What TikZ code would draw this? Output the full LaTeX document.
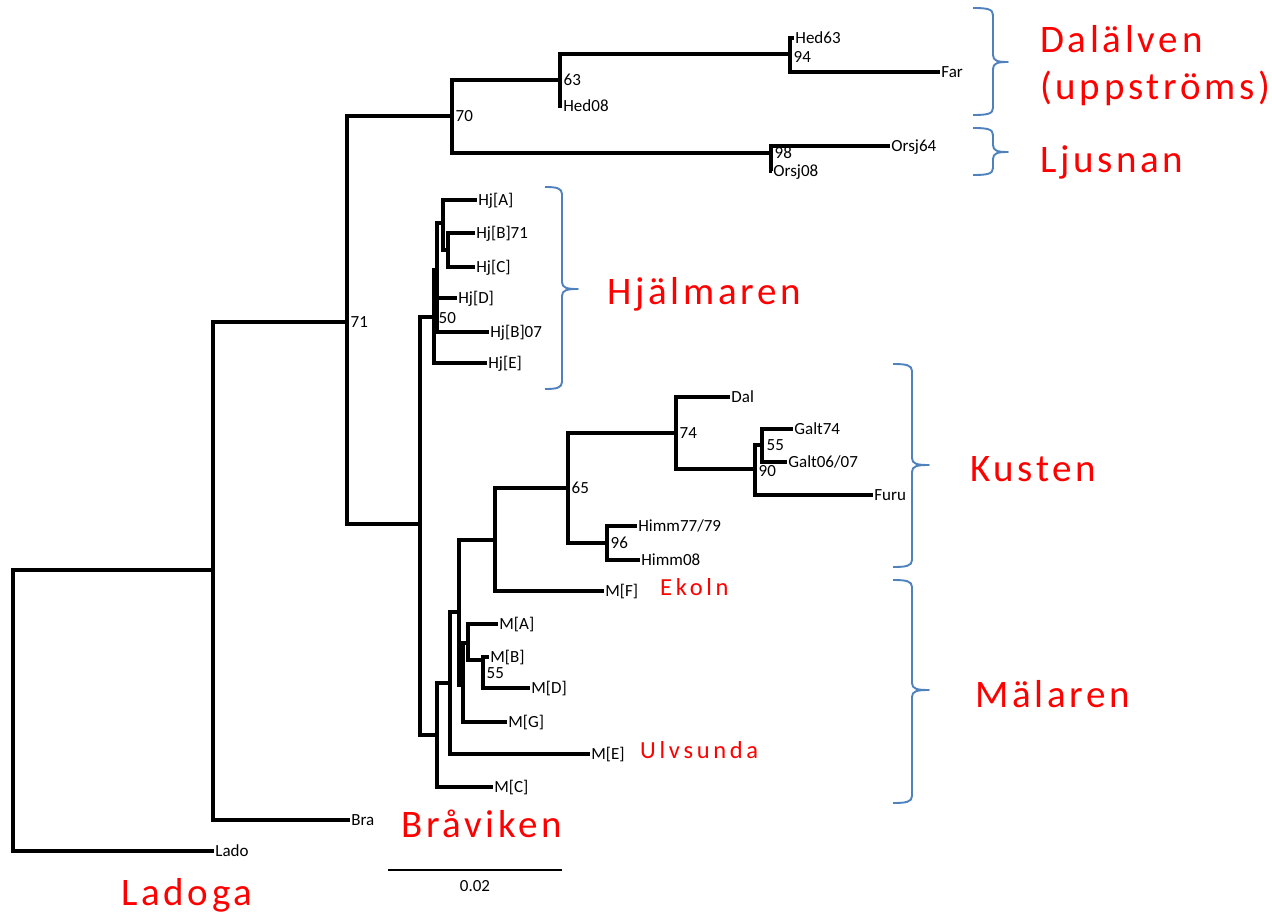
\documentclass[tikz,border=0pt]{standalone}
\usepackage{fontspec}
\setmainfont{Carlito}
\newfontfamily\bigredfont[LetterSpace=9.5]{Carlito}
\newfontfamily\smallredfont[LetterSpace=15]{Carlito}
\definecolor{bracecol}{RGB}{79,129,189}
\definecolor{labred}{RGB}{255,0,0}
\newcommand\curlyr[6]{%
  \draw[bracestyle] (#1,#4) .. controls (#2-6,#4) and (#2,#4+1) .. (#2,#4+7)
    -- (#2,#5-7) .. controls (#2,#5-1) and (#2+5,#5) .. (#3,#5)
    .. controls (#2+5,#5) and (#2,#5+1) .. (#2,#5+7)
    -- (#2,#6-7) .. controls (#2,#6-1) and (#2-6,#6) .. (#1,#6);}
\begin{document}
\begin{tikzpicture}[x=1pt,y=-1pt,
  br/.style={line width=3.7pt},
  thinbr/.style={line width=3.1pt},
  leaf/.style={anchor=west, inner sep=1.2pt, font=\fontsize{17}{19}\selectfont, text height=10.8pt, text depth=0pt},
  boot/.style={anchor=west, inner sep=0.5pt, font=\fontsize{17}{19}\selectfont, text height=10.8pt, text depth=0pt},
  bigred/.style={anchor=base west, inner sep=0pt, text=labred, font=\bigredfont\fontsize{39}{44}\selectfont},
  smallred/.style={anchor=base west, inner sep=0pt, text=labred, font=\smallredfont\fontsize{24.5}{28}\selectfont},
  bracestyle/.style={draw=bracecol, line width=1.9pt, line join=round}]
\useasboundingbox (0,0) rectangle (1272,915);

% internal nodes
\coordinate (R0) at (13,711);
\coordinate (N213) at (213,570);
\coordinate (N347) at (347,322);
\coordinate (N452) at (452,116);
\coordinate (N560) at (560,80);
\coordinate (N790) at (790,54);
\coordinate (N771) at (771,153);
\coordinate (N420) at (420,524);
\coordinate (NHj) at (434,317);
\coordinate (NHj2) at (437,270);
\coordinate (NHjA) at (443,223);
\coordinate (NHjB) at (448,250);
\coordinate (N437) at (437,735);
\coordinate (N450) at (450,683);
\coordinate (N459) at (459,612);
\coordinate (N495) at (495,540);
\coordinate (N568) at (568,488);
\coordinate (N676) at (676,433);
\coordinate (N755) at (755,469);
\coordinate (N762) at (762,445);
\coordinate (N607) at (607,543);
\coordinate (N463) at (463,685);
\coordinate (N468) at (468,643);
\coordinate (N483) at (483,660);

% leaves
\node[leaf] (Hed63) at (794,38) {Hed63};
\node[leaf] (Far) at (940,72) {Far};
\node[leaf] (Hed08) at (562,106) {Hed08};
\node[leaf] (Orsj64) at (890,146) {Orsj64};
\node[leaf] (Orsj08) at (772,171) {Orsj08};
\node[leaf] (HjA) at (477,200) {Hj[A]};
\node[leaf] (HjB71) at (475,233) {Hj[B]71};
\node[leaf] (HjC) at (475,267) {Hj[C]};
\node[leaf] (HjD) at (457,298) {Hj[D]};
\node[leaf] (HjB07) at (489,332) {Hj[B]07};
\node[leaf] (HjE) at (487,363) {Hj[E]};
\node[leaf] (Dal) at (730,397) {Dal};
\node[leaf] (Galt74) at (793,429) {Galt74};
\node[leaf] (Galt0607) at (787,462) {Galt06/07};
\node[leaf] (Furu) at (873,495) {Furu};
\node[leaf] (Himm7779) at (637,526) {Himm77/79};
\node[leaf] (Himm08) at (640,560) {Himm08};
\node[leaf] (MF) at (604,591) {M[F]};
\node[leaf] (MA) at (498,624) {M[A]};
\node[leaf] (MB) at (489,657) {M[B]};
\node[leaf] (MD) at (530,688) {M[D]};
\node[leaf] (MG) at (507,722) {M[G]};
\node[leaf] (ME) at (590,754) {M[E]};
\node[leaf] (MC) at (493,787) {M[C]};
\node[leaf] (Bra) at (350,820) {Bra};
\node[leaf] (Lado) at (214,851) {Lado};

% branches
\draw[br] (R0) |- (N213);
\draw[br] (R0) |- (Lado.west);
\draw[br] (N213) |- (N347);
\draw[br] (N213) |- (Bra.west);
\draw[br] (N347) |- (N452);
\draw[br] (N347) |- (N420);
\draw[br] (N452) |- (N560);
\draw[br] (N452) |- (N771);
\draw[br] (N560) |- (N790);
\draw[br] (N560) |- (Hed08.west);
\draw[br] (N790) |- (Hed63.west);
\draw[br] (N790) |- (Far.west);
\draw[br] (N771) |- (Orsj64.west);
\draw[br] (N771) |- (Orsj08.west);
\draw[br] (N420) |- (NHj);
\draw[br] (N420) |- (N437);
\draw[br] (NHj) |- (NHj2);
\draw[br] (NHj) |- (HjE.west);
\draw[thinbr] (NHj2) |- (NHjA);
\draw[br] (NHj2) |- (HjD.west);
\draw[br] (NHj2) |- (HjB07.west);
\draw[br] (NHjA) |- (HjA.west);
\draw[thinbr] (NHjA) |- (NHjB);
\draw[br] (NHjB) |- (HjB71.west);
\draw[br] (NHjB) |- (HjC.west);
\draw[thinbr] (N437) |- (N450);
\draw[thinbr] (N437) |- (MC.west);
\draw[thinbr] (N450) |- (N459);
\draw[thinbr] (N450) |- (ME.west);
\draw[br] (N459) |- (N495);
\draw[br] (N459) |- (N463);
\draw[br] (N495) |- (N568);
\draw[br] (N495) |- (MF.west);
\draw[br] (N568) |- (N676);
\draw[br] (N568) |- (N607);
\draw[br] (N676) |- (Dal.west);
\draw[br] (N676) |- (N755);
\draw[br] (N755) |- (N762);
\draw[br] (N755) |- (Furu.west);
\draw[br] (N762) |- (Galt74.west);
\draw[br] (N762) |- (Galt0607.west);
\draw[br] (N607) |- (Himm7779.west);
\draw[br] (N607) |- (Himm08.west);
\draw[br] (N463) |- (N468);
\draw[br] (N463) |- (MG.west);
\draw[br] (N468) |- (MA.west);
\draw[br] (N468) |- (N483);
\draw[br] (N483) |- (MB.west);
\draw[br] (N483) |- (MD.west);

% support values
\node[boot] (b71) at (350,322) {71};
\node[boot] (b70) at (455,116) {70};
\node[boot] (b63) at (563,80) {63};
\node[boot] (b94) at (793,57) {94};
\node[boot] (b98) at (774,153) {98};
\node[boot] (b50) at (438,318) {50};
\node[boot] (b65) at (571,488) {65};
\node[boot] (b74) at (679,433) {74};
\node[boot] (b90) at (758,471) {90};
\node[boot] (b55a) at (766,445) {55};
\node[boot] (b96) at (610,543) {96};
\node[boot] (b55b) at (486,673) {55};

% scale bar
\coordinate (SB1) at (388,870);
\coordinate (SB2) at (562,870);
\draw[line width=2.4pt] (SB1) -- (SB2);
\node[font=\fontsize{17}{19}\selectfont, inner sep=0pt] (SBlab) at (475,886) {0.02};

% braces
\curlyr{973}{993}{1008}{8}{62}{115}
\curlyr{973}{993}{1008}{128}{152}{175}
\curlyr{545}{562}{578}{187}{289}{389}
\curlyr{893}{912}{929}{364}{465}{567}
\curlyr{893}{912}{929}{580}{690}{803}

% group labels
\node[bigred] (lDal) at (1040,53) {Dalälven};
\node[bigred] (lUpp) at (1040,100) {(uppströms)};
\node[bigred] (lLju) at (1040,172) {Ljusnan};
\node[bigred] (lHj) at (607,304) {Hjälmaren};
\node[bigred] (lKus) at (970,481) {Kusten};
\node[bigred] (lMal) at (975,707) {Mälaren};
\node[smallred] (lEko) at (660,595) {Ekoln};
\node[smallred] (lUlv) at (640,758) {Ulvsunda};
\node[bigred] (lBra) at (401,837) {Bråviken};
\node[bigred] (lLad) at (121,905) {Ladoga};
\end{tikzpicture}
\end{document}
